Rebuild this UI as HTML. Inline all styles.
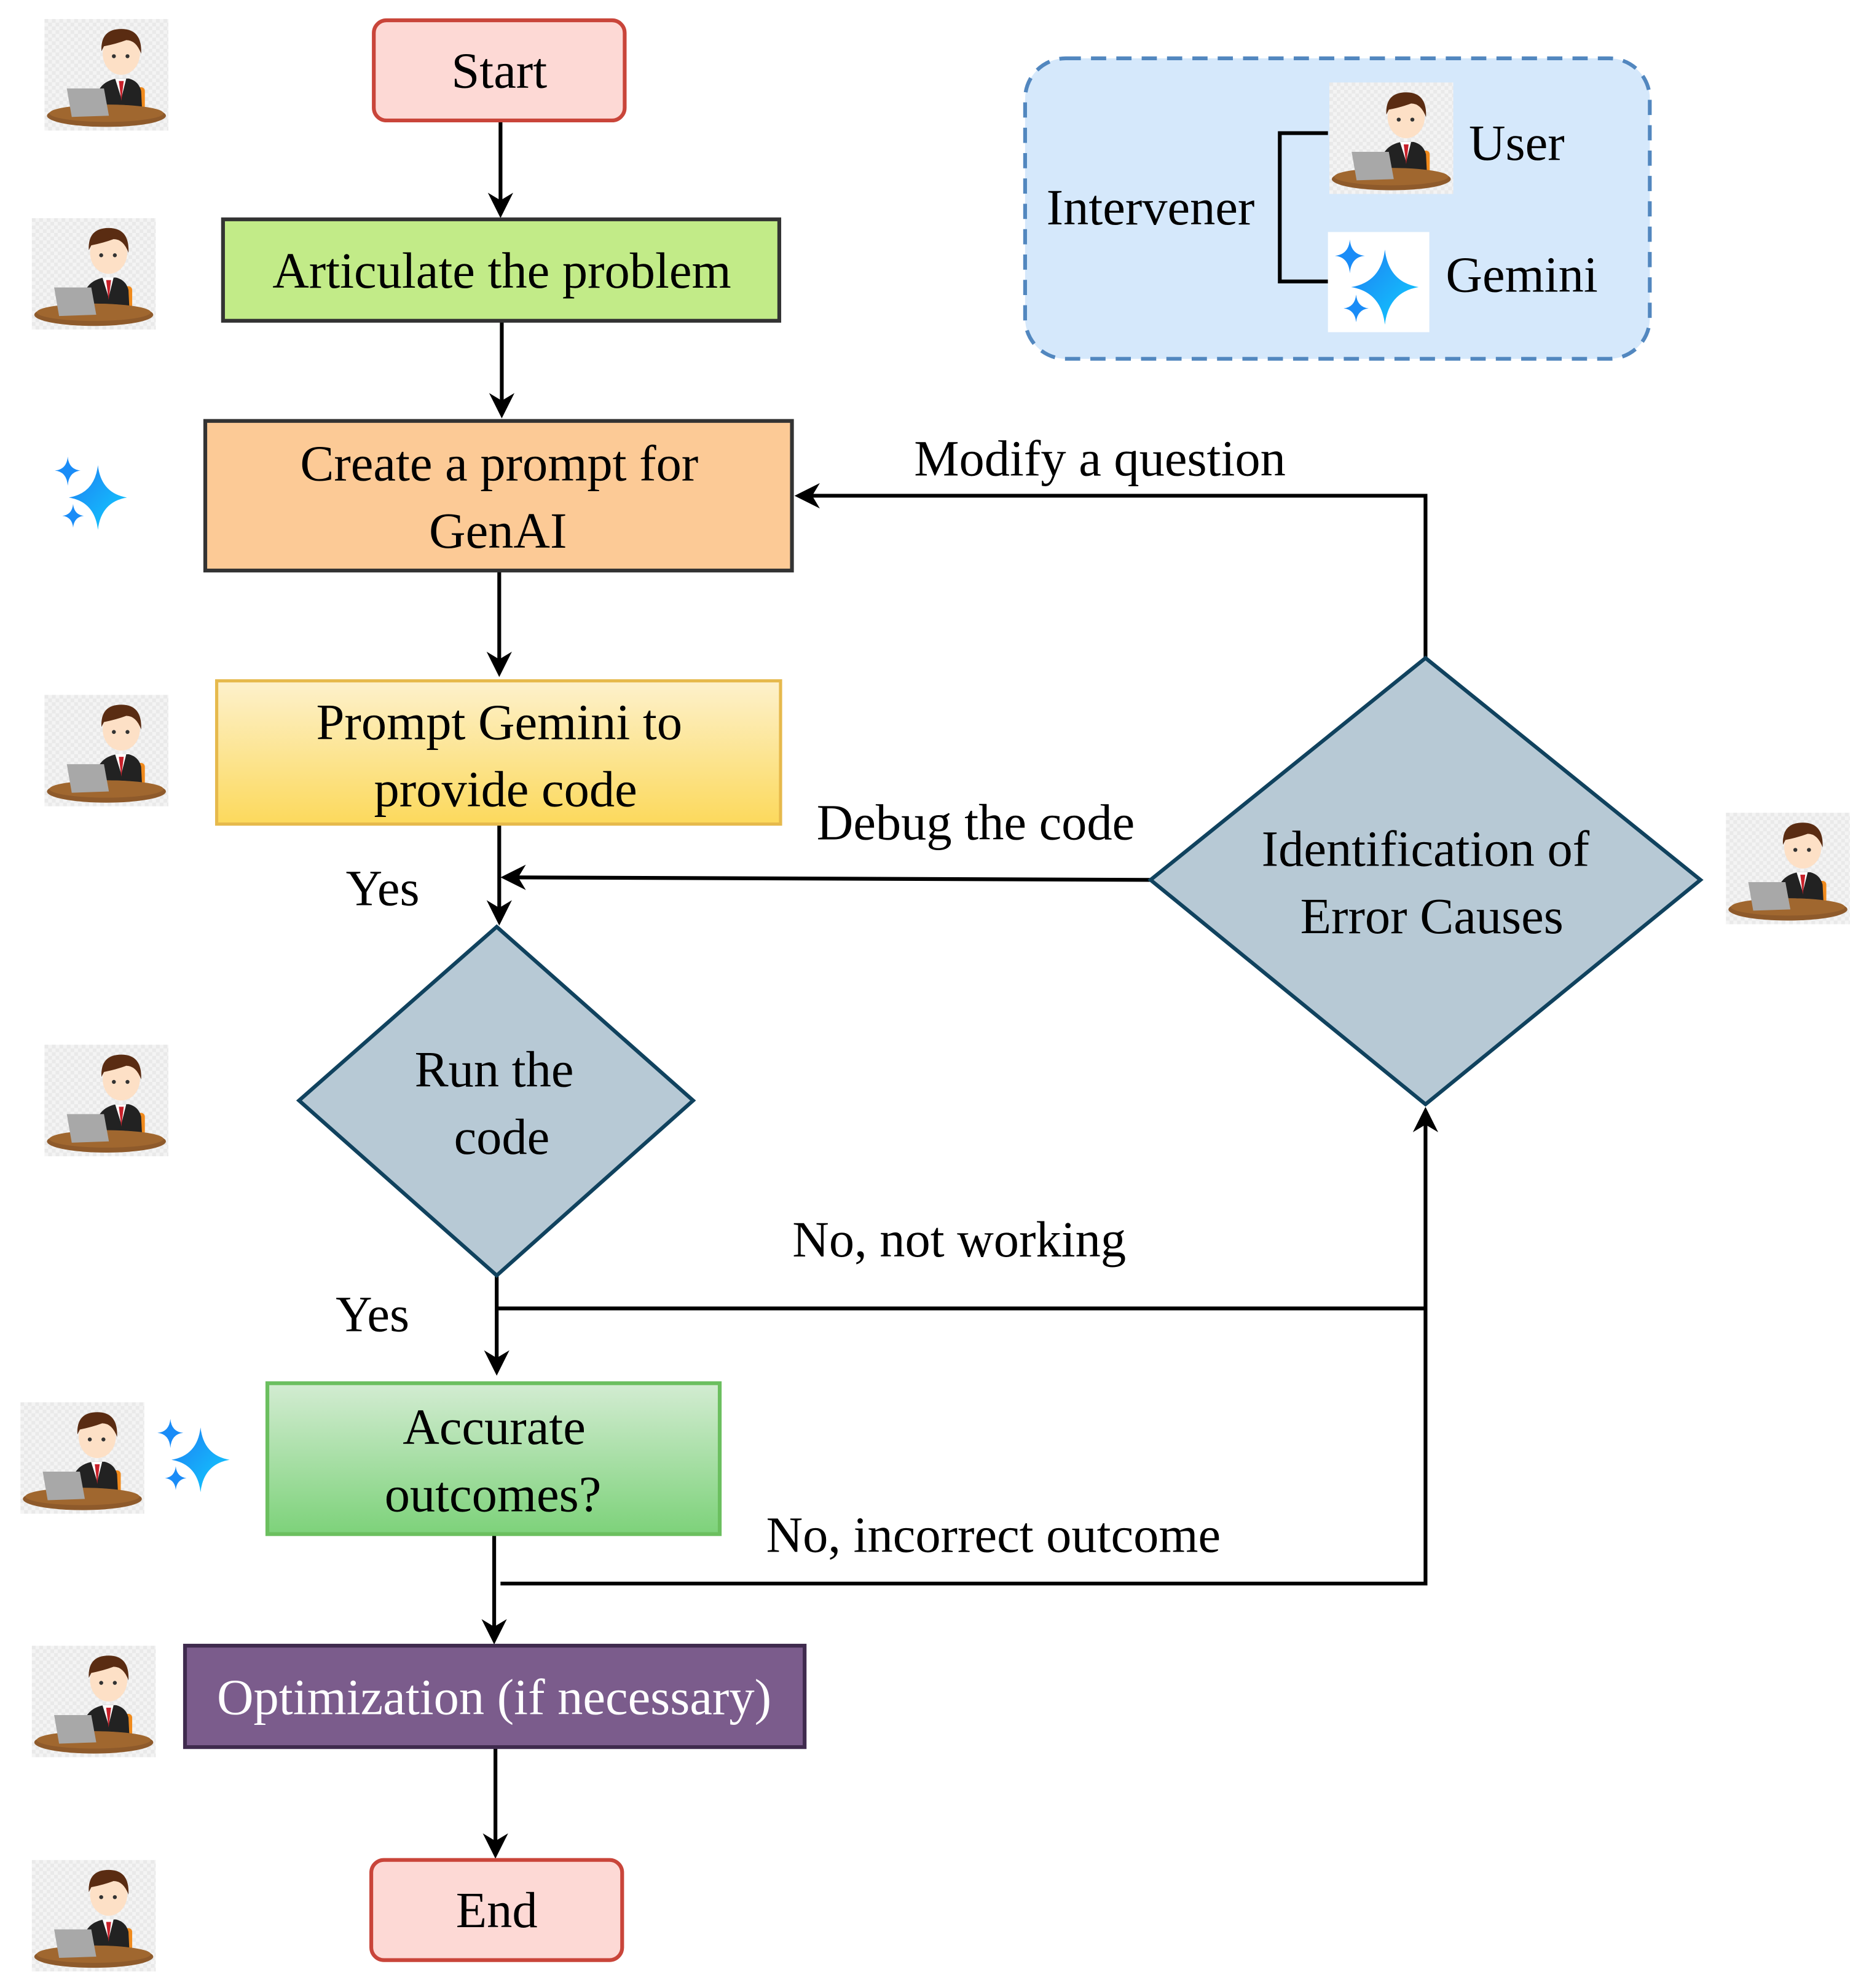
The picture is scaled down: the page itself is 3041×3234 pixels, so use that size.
<!DOCTYPE html>
<html><head><meta charset="utf-8"><style>html,body{margin:0;padding:0;background:#fff}svg{display:block}svg text{font-family:"Liberation Serif","Times New Roman","Nimbus Roman","Tinos","Noto Serif CJK SC","DejaVu Serif",serif;font-size:40px}</style></head>
<body>
<svg width="3041" height="3234" viewBox="0 0 1475 1568" preserveAspectRatio="none" xmlns="http://www.w3.org/2000/svg" text-anchor="middle">
<defs>
<linearGradient id="gy" x1="0" y1="0" x2="0" y2="1"><stop offset="0" stop-color="#fdf1cc"/><stop offset="1" stop-color="#fcd95c"/></linearGradient>
<linearGradient id="gg" x1="0" y1="0" x2="0" y2="1"><stop offset="0" stop-color="#d3ecd2"/><stop offset="1" stop-color="#7dd27a"/></linearGradient>
<linearGradient id="gs" x1="0" y1="0" x2="1" y2="1"><stop offset="0" stop-color="#1f7cf2"/><stop offset="1" stop-color="#10d0ff"/></linearGradient>
<pattern id="chk" width="6" height="6" patternUnits="userSpaceOnUse"><rect width="6" height="6" fill="#f4f4f4"/><rect width="3" height="3" fill="#e9e9e9"/><rect x="3" y="3" width="3" height="3" fill="#e9e9e9"/></pattern>
<symbol id="user" viewBox="0 0 100 90">
<rect width="100" height="90" fill="url(#chk)"/>
<rect x="72" y="55" width="9" height="20" rx="3" fill="#f08a1c"/>
<path d="M40 78 L44 57 Q48 50 58 48 L68 48 Q76 50 78 58 L79 78 Z" fill="#222"/>
<path d="M57 48 L62 64 L66 48 Z" fill="#fff"/>
<path d="M60 50 L62 66 L64 50 Z" fill="#c8202a"/>
<ellipse cx="62" cy="28" rx="15" ry="17" fill="#fde0c6"/>
<path d="M46 26 Q45 8 62 8 Q79 8 78 28 Q74 17 66 17 Q58 20 48 22 Z" fill="#5a2c12"/>
<circle cx="56" cy="30" r="1.6" fill="#333"/><circle cx="67" cy="30" r="1.6" fill="#333"/>
<ellipse cx="50" cy="78" rx="48" ry="9" fill="#8e5a2b"/>
<ellipse cx="50" cy="76" rx="46" ry="7" fill="#a0672f"/>
<path d="M18 56 L48 56 L52 78 L22 79 Z" fill="#a8a8a8"/>
</symbol>
<symbol id="star" viewBox="0 0 80 80">
<path d="M45 14 Q48 40 72 44 Q48 48 45 74 Q42 48 18 44 Q42 40 45 14 Z" fill="url(#gs)"/>
<path d="M17 6 Q18 18 29 19 Q18 20 17 33 Q16 20 5 19 Q16 18 17 6 Z" fill="#1a8cf7"/>
<path d="M22 50 Q23 60 32 61 Q23 62 22 72 Q21 62 12 61 Q21 60 22 50 Z" fill="#1a8cf7"/>
</symbol>
</defs>

<rect x="809" y="46" width="493" height="237" rx="32" fill="#d5e8fb" stroke="#5287bf" stroke-width="3" stroke-dasharray="12,8"/>
<text x="908" y="177">Intervener</text>
<path d="M1048 105 H1010 V222 H1048" fill="none" stroke="#000" stroke-width="3"/>
<use href="#user" x="1048" y="65" width="100" height="88"/>
<rect x="1048" y="183" width="80" height="79" fill="#fff"/>
<use href="#star" x="1048" y="183" width="80" height="79"/>
<text x="1197" y="126">User</text>
<text x="1201" y="230">Gemini</text>

<use href="#user" x="35" y="15" width="98" height="88"/>
<use href="#user" x="25" y="172" width="98" height="88"/>
<use href="#star" x="38" y="355" width="70" height="68"/>
<use href="#user" x="35" y="548" width="98" height="88"/>
<use href="#user" x="35" y="824" width="98" height="88"/>
<use href="#user" x="16" y="1106" width="98" height="88"/>
<use href="#star" x="119" y="1114" width="70" height="68"/>
<use href="#user" x="25" y="1298" width="98" height="88"/>
<use href="#user" x="25" y="1467" width="98" height="88"/>
<use href="#user" x="1362" y="641" width="98" height="88"/>

<g stroke="#000" stroke-width="3" fill="none">
<path d="M395 95 V165"/><path d="M396 253 V322"/><path d="M394 450 V526"/><path d="M394 650 V722"/>
<path d="M392 1006 V1077"/><path d="M392 1032 H1125"/><path d="M395 1249 H1125 V881"/>
<path d="M390 1210 V1289"/><path d="M391 1378 V1458"/>
<path d="M908 694 L403 692"/><path d="M1125 519 V391 H635"/>
</g>
<g fill="#000">
<path d="M385 152 L395 172 L405 152 L395 158 Z"/>
<path d="M386 310 L396 330 L406 310 L396 316 Z"/>
<path d="M384 514 L394 534 L404 514 L394 520 Z"/>
<path d="M384 710 L394 730 L404 710 L394 716 Z"/>
<path d="M382 1065 L392 1085 L402 1065 L392 1071 Z"/>
<path d="M380 1277 L390 1297 L400 1277 L390 1283 Z"/>
<path d="M381 1446 L391 1466 L401 1446 L391 1452 Z"/>
<path d="M1115 893 L1125 873 L1135 893 L1125 887 Z"/>
<path d="M415 682 L395 692 L415 702 L409 692 Z"/>
<path d="M647 381 L627 391 L647 401 L641 391 Z"/>
</g>

<rect x="295" y="16" width="198" height="79" rx="10" fill="#fdd9d5" stroke="#c9453a" stroke-width="3"/>
<text x="394" y="69">Start</text>
<rect x="176" y="173" width="439" height="80" fill="#c2eb88" stroke="#333" stroke-width="3"/>
<text x="396" y="227">Articulate the problem</text>
<rect x="162" y="332" width="463" height="118" fill="#fcca96" stroke="#333" stroke-width="3"/>
<text x="394" y="379">Create a prompt for</text>
<text x="393" y="432">GenAI</text>
<rect x="171" y="537" width="445" height="113" fill="url(#gy)" stroke="#e6b94c" stroke-width="2.5"/>
<text x="394" y="583">Prompt Gemini to</text>
<text x="399" y="636">provide code</text>
<polygon points="392,731 547,868 392,1006 236,868" fill="#b7c9d5" stroke="#10425e" stroke-width="3"/>
<text x="390" y="857">Run the</text>
<text x="396" y="910">code</text>
<rect x="211" y="1091" width="357" height="119" fill="url(#gg)" stroke="#6bbf5f" stroke-width="3"/>
<text x="390" y="1139">Accurate</text>
<text x="389" y="1192">outcomes?</text>
<rect x="146" y="1298" width="489" height="80" fill="#7b5c8c" stroke="#3f2b4e" stroke-width="3"/>
<text x="390" y="1352" fill="#fff">Optimization (if necessary)</text>
<rect x="293" y="1467" width="198" height="79" rx="10" fill="#fdd9d5" stroke="#c9453a" stroke-width="3"/>
<text x="392" y="1520">End</text>
<polygon points="1125,519 1342,694 1125,871 908,694" fill="#b7c9d5" stroke="#10425e" stroke-width="3"/>
<text x="1125" y="683">Identification of</text>
<text x="1130" y="736">Error Causes</text>

<text x="302" y="714">Yes</text>
<text x="294" y="1050">Yes</text>
<text x="868" y="375">Modify a question</text>
<text x="770" y="662">Debug the code</text>
<text x="757" y="991">No, not working</text>
<text x="784" y="1224">No, incorrect outcome</text>
</svg>
</body></html>
